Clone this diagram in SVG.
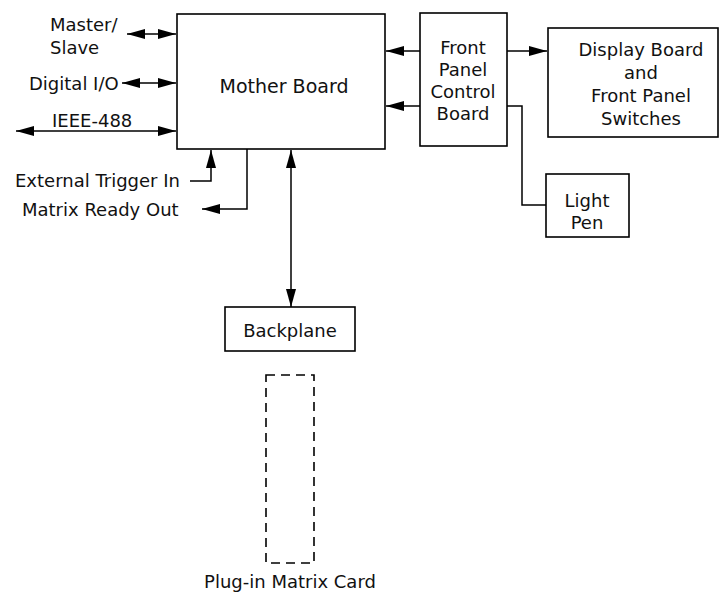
<svg xmlns="http://www.w3.org/2000/svg" width="721" height="598" viewBox="0 0 721 598">
<style>
.box{fill:#fff;stroke:#000;stroke-width:1.6}
.dash{fill:none;stroke:#000;stroke-width:1.6;stroke-dasharray:9,6}
.t{font-family:"DejaVu Sans",sans-serif;font-size:18px;fill:#111}
.m{text-anchor:middle}
.c{fill:none;stroke:#000;stroke-width:1.5}
.a{marker-end:url(#ah)}
.b{marker-start:url(#ah);marker-end:url(#ah)}
</style>
<defs>
<marker id="ah" markerUnits="userSpaceOnUse" markerWidth="18" markerHeight="10" refX="18" refY="5" orient="auto-start-reverse">
<path d="M0,0 L18,5 L0,10 z" fill="#000"/>
</marker>
</defs>
<rect width="721" height="598" fill="#fff"/>
<g id="connectors">
<line class="c b" x1="127" y1="34" x2="176" y2="34"/>
<line class="c b" x1="122" y1="83" x2="176" y2="83"/>
<line class="c b" x1="16" y1="131" x2="176" y2="131"/>
<line class="c a" x1="420" y1="51" x2="386" y2="51"/>
<line class="c a" x1="420" y1="106" x2="386" y2="106"/>
<line class="c a" x1="507" y1="51" x2="547" y2="51"/>
<polyline class="c" points="507,106 522,106 522,205 546,205"/>
<polyline class="c a" points="190,181 211,181 211,150"/>
<polyline class="c a" points="247,149 247,209 202,209"/>
<line class="c b" x1="291" y1="150" x2="291" y2="307"/>
</g>
<g id="labels">
<text class="t" x="50" y="31">Master/</text>
<text class="t" x="50" y="54">Slave</text>
<text class="t" x="29" y="90">Digital I/O</text>
<text class="t" x="52" y="127">IEEE-488</text>
<text class="t" x="15" y="187">External Trigger In</text>
<text class="t" x="22" y="216">Matrix Ready Out</text>
</g>
<g id="mother-board">
<rect class="box" x="177" y="14" width="208" height="135"/>
<text class="t m" x="284" y="93" style="font-size:19px">Mother Board</text>
</g>
<g id="front-panel-control-board">
<rect class="box" x="420" y="13" width="87" height="133"/>
<text class="t m" x="463" y="54">Front</text>
<text class="t m" x="463" y="76">Panel</text>
<text class="t m" x="463" y="98">Control</text>
<text class="t m" x="463" y="120">Board</text>
</g>
<g id="display-board">
<rect class="box" x="548" y="28" width="170" height="109"/>
<text class="t m" x="641" y="56">Display Board</text>
<text class="t m" x="641" y="79">and</text>
<text class="t m" x="641" y="102">Front Panel</text>
<text class="t m" x="641" y="125">Switches</text>
</g>
<g id="light-pen">
<rect class="box" x="546" y="174" width="83" height="63"/>
<text class="t m" x="587" y="207">Light</text>
<text class="t m" x="587" y="229">Pen</text>
</g>
<g id="backplane">
<rect class="box" x="225" y="307" width="130" height="44"/>
<text class="t m" x="290" y="337">Backplane</text>
</g>
<g id="plug-in-matrix-card">
<rect class="dash" x="266" y="375" width="48" height="188"/>
<text class="t m" x="290" y="588">Plug-in Matrix Card</text>
</g>
</svg>
